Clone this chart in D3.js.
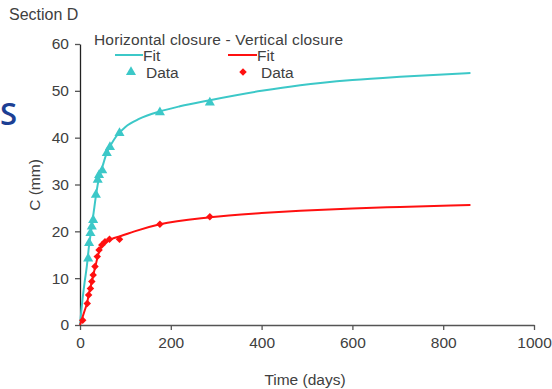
<!DOCTYPE html>
<html><head><meta charset="utf-8">
<script src="https://cdn.jsdelivr.net/npm/d3@7"></script>
<style>
html,body{margin:0;padding:0;background:#fff;}
svg{display:block;font-family:"Liberation Sans",Arial,sans-serif;}
</style></head>
<body><svg id="c" width="552" height="389"></svg>
<script>
// Horizontal closure data (triangles)
const hDataT = [18, 20, 23, 26, 29, 35, 39, 42, 49, 59, 66, 87, 176, 286];
const hDataC = [14.2, 17.5, 19.6, 21, 22.4, 27.8, 31, 32, 33, 36.7, 38, 41, 45.4, 47.5];
// Vertical closure data (diamonds)
const vDataT = [6, 16, 19, 23, 26, 29, 33, 38, 42, 48, 55, 65, 87, 176, 286];
const vDataC = [1, 4.6, 6.4, 7.8, 9.3, 10.7, 12.5, 14.6, 16, 17.1, 17.8, 18.3, 18.3, 21.5, 23.1];
// Fit curves
const hFitT = [0, 5, 10, 15, 20, 25, 30, 35, 40, 50, 60, 70, 80, 100, 130, 176, 220, 286, 400, 485, 600, 705, 860];
const hFitC = [0, 5, 9, 12.5, 17, 20.5, 24, 27.5, 30.5, 34, 37, 38.8, 40.3, 42.3, 44, 45.6, 46.7, 48, 50, 51.2, 52.3, 53, 53.8];
const vFitT = [0, 5, 10, 15, 20, 25, 30, 35, 40, 45, 50, 60, 70, 90, 120, 176, 286, 400, 485, 600, 705, 860];
const vFitC = [0, 1.5, 3, 4.5, 6.8, 8.8, 11, 13, 15, 16.3, 17.1, 17.9, 18.4, 19, 20, 21.5, 23, 23.9, 24.4, 24.9, 25.2, 25.6];
const xTicks = [0, 200, 400, 600, 800, 1000];
const yTicks = [0, 10, 20, 30, 40, 50, 60];

const cyan = "#3cc8c8", red = "#ff1010", txt = "#404040";
const FS = 15.5;
const svg = d3.select("#c");
const x = d3.scaleLinear().domain([0, 1000]).range([80, 534]);
const y = d3.scaleLinear().domain([0, 60]).range([325, 44]);

// Blue S fragment
svg.append("text").attr("x", 0).attr("y", 125).attr("fill", "#1c3f94")
  .attr("font-size", 31).attr("font-weight", 600).attr("font-family", "'Open Sans',sans-serif").text("S");

svg.append("text").attr("x", 9).attr("y", 20).attr("fill", txt).attr("font-size", 16).text("Section D");

const xa = svg.append("g").attr("transform", "translate(0,325)")
  .call(d3.axisBottom(x).tickValues(xTicks).tickFormat(d3.format("d")).tickSize(5).tickSizeOuter(0).tickPadding(7));
const ya = svg.append("g").attr("transform", "translate(80,0)")
  .call(d3.axisLeft(y).tickValues(yTicks).tickFormat(d3.format("d")).tickSize(5).tickSizeOuter(0).tickPadding(6));
[xa, ya].forEach(a => {
  a.selectAll("path,line").attr("stroke", "#555").attr("stroke-width", 1.3);
  a.selectAll("text").attr("fill", txt).attr("font-size", FS).attr("font-family", "'Liberation Sans',Arial,sans-serif");
});
ya.select("path").attr("stroke", "#222");

svg.append("text").attr("x", 305).attr("y", 385).attr("text-anchor", "middle").attr("fill", txt).attr("font-size", FS).text("Time (days)");
svg.append("text").attr("transform", "translate(40,185) rotate(-90)").attr("text-anchor", "middle").attr("fill", txt).attr("font-size", FS).text("C (mm)");

const line = d3.line().x(d => x(d[0])).y(d => y(d[1])).curve(d3.curveMonotoneX);
svg.append("path").datum(hFitT.map((t, i) => [t, hFitC[i]])).attr("d", line)
  .attr("fill", "none").attr("stroke", cyan).attr("stroke-width", 2);
svg.append("path").datum(vFitT.map((t, i) => [t, vFitC[i]])).attr("d", line)
  .attr("fill", "none").attr("stroke", red).attr("stroke-width", 2);

const tri = d3.symbol().type(d3.symbolTriangle).size(44);
const dia = d3.symbol().type(d3.symbolSquare).size(28);
svg.append("g").selectAll("path").data(hDataT.map((t, i) => [t, hDataC[i]])).join("path")
  .attr("d", tri).attr("transform", d => `translate(${x(d[0])},${y(d[1])})`).attr("fill", cyan);
svg.append("g").selectAll("path").data(vDataT.map((t, i) => [t, vDataC[i]])).join("path")
  .attr("d", dia).attr("transform", d => `translate(${x(d[0])},${y(d[1])}) rotate(45)`).attr("fill", red);

// Legend
const lg = svg.append("g").attr("font-size", FS).attr("fill", txt);
lg.append("text").attr("x", 94).attr("y", 45).attr("textLength", 249).text("Horizontal closure - Vertical closure");
lg.append("line").attr("x1", 115).attr("x2", 143).attr("y1", 55).attr("y2", 55).attr("stroke", cyan).attr("stroke-width", 2);
lg.append("text").attr("x", 143).attr("y", 61).text("Fit");
lg.append("line").attr("x1", 228).attr("x2", 257).attr("y1", 55).attr("y2", 55).attr("stroke", red).attr("stroke-width", 2);
lg.append("text").attr("x", 257).attr("y", 61).text("Fit");
lg.append("path").attr("d", tri).attr("transform", "translate(131,72)").attr("fill", cyan);
lg.append("text").attr("x", 146).attr("y", 78).text("Data");
lg.append("path").attr("d", dia).attr("transform", "translate(243,72) rotate(45)").attr("fill", red);
lg.append("text").attr("x", 261).attr("y", 78).text("Data");
</script></body></html>
